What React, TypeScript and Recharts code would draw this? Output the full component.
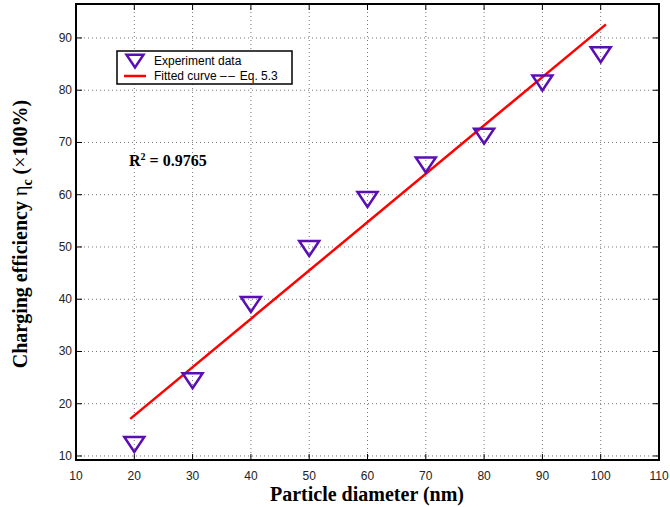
import React from "react";
import { ComposedChart, Scatter, Line, XAxis, YAxis, CartesianGrid, Customized } from "recharts";

const diameters = [20, 30, 40, 50, 60, 70, 80, 90, 100];
const efficiency = [12.1, 24.3, 38.9, 49.6, 59.0, 65.6, 71.1, 81.3, 86.7];
const fitDiameters = [19.3, 100.9];
const fitEfficiency = [17.1, 92.6];
const xTicks = [10, 20, 30, 40, 50, 60, 70, 80, 90, 100, 110];
const yTicks = [10, 20, 30, 40, 50, 60, 70, 80, 90];
const seriesNames = ["Experiment data", "Fitted curve "];

const W = 670;
const H = 507;
const PLOT = { left: 76, right: 659, top: 4, bottom: 460 };
const PURPLE = "#5a0fb4";
const RED = "#ff0000";
const SANS = "'Liberation Sans', Arial, sans-serif";
const SERIF = "'Liberation Serif', 'Times New Roman', serif";

const points = diameters.map((x, i) => ({ x, y: efficiency[i] }));
const fit = fitDiameters.map((x, i) => ({ x, y: fitEfficiency[i] }));

function TriangleDown({ cx, cy, scale = 1 }: any) {
  const w = 10 * scale;
  return (
    <polygon
      points={`${cx - w},${cy - 8 * scale} ${cx + w},${cy - 8 * scale} ${cx},${cy + 7 * scale}`}
      fill="none"
      stroke={PURPLE}
      strokeWidth={2.5}
      strokeLinejoin="miter"
    />
  );
}

function XTick({ x, payload }: any) {
  return (
    <g>
      <line x1={x} x2={x} y1={PLOT.bottom} y2={PLOT.bottom - 6} stroke="#000" />
      <line x1={x} x2={x} y1={PLOT.top} y2={PLOT.top + 6} stroke="#000" />
      <text x={x} y={479.5} textAnchor="middle" fontFamily={SANS} fontSize={12} fill="#222">
        {payload.value}
      </text>
    </g>
  );
}

function YTick({ y, payload }: any) {
  return (
    <g>
      <line x1={PLOT.left} x2={PLOT.left + 6} y1={y} y2={y} stroke="#000" />
      <line x1={PLOT.right} x2={PLOT.right - 6} y1={y} y2={y} stroke="#000" />
      <text x={72} y={y + 4} textAnchor="end" fontFamily={SANS} fontSize={12} fill="#222">
        {payload.value}
      </text>
    </g>
  );
}

function Decorations() {
  return (
    <g>
      <rect
        x={PLOT.left}
        y={PLOT.top}
        width={PLOT.right - PLOT.left}
        height={PLOT.bottom - PLOT.top}
        fill="none"
        stroke="#000"
        strokeWidth={2}
      />
      {/* legend */}
      <rect x={117} y={51} width={175} height={33} fill="#fff" stroke="#000" strokeWidth={1.5} />
      <TriangleDown cx={135} cy={61.5} scale={0.85} />
      <line x1={124} x2={146} y1={76} y2={76} stroke={RED} strokeWidth={2.5} />
      <text x={154} y={65} fontFamily={SANS} fontSize={12} fill="#000">{seriesNames[0]}</text>
      <text x={154} y={80} fontFamily={SANS} fontSize={12} fill="#000">
        {seriesNames[1]}
        <tspan letterSpacing={1.5}>{"\u2013\u2013"}</tspan> Eq. 5.3
      </text>
      {/* R^2 note */}
      <text x={129} y={166} fontFamily={SERIF} fontSize={16} fontWeight="bold" fill="#000">
        R<tspan dy={-6} fontSize={10}>2</tspan>
        <tspan dy={6}> = 0.9765</tspan>
      </text>
      {/* axis titles */}
      <text x={367} y={501} textAnchor="middle" fontFamily={SERIF} fontSize={20} fontWeight="bold" fill="#000">
        Particle diameter (nm)
      </text>
      <text
        transform="translate(27,234) rotate(-90)"
        textAnchor="middle"
        fontFamily={SERIF}
        fontSize={20}
        fontWeight="bold"
        fill="#000"
      >
        Charging efficiency <tspan fontWeight="normal">η</tspan>
        <tspan dy={5} fontSize={14}>c</tspan>
        <tspan dy={-5}> (</tspan>
        <tspan fontWeight="normal">×</tspan>100%)
      </text>
    </g>
  );
}

export default function App() {
  return (
    <div style={{ position: "absolute", left: 0, top: 0, width: W, height: H, background: "#fff" }}>
      <ComposedChart width={W} height={H} margin={{ top: 4, right: 11, bottom: 0, left: 0 }}>
        <CartesianGrid stroke="#777" strokeDasharray="1 3" />
        <XAxis
          type="number"
          dataKey="x"
          domain={[10, 110]}
          ticks={xTicks}
          interval={0}
          allowDataOverflow
          height={47}
          axisLine={false}
          tickLine={false}
          tick={<XTick />}
        />
        <YAxis
          type="number"
          domain={[9.23, 96.5]}
          ticks={yTicks}
          interval={0}
          allowDataOverflow
          width={76}
          axisLine={false}
          tickLine={false}
          tick={<YTick />}
        />
        <Line
          data={fit}
          dataKey="y"
          type="linear"
          stroke={RED}
          strokeWidth={2.5}
          dot={false}
          activeDot={false}
          isAnimationActive={false}
        />
        <Scatter data={points} dataKey="y" shape={<TriangleDown />} isAnimationActive={false} />
        <Customized component={Decorations} />
      </ComposedChart>
    </div>
  );
}
